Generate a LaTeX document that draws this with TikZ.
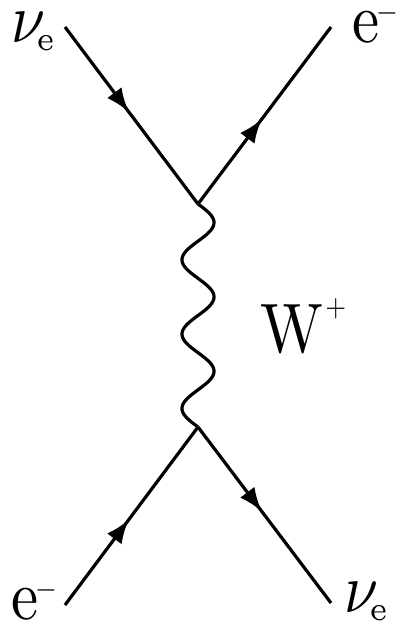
\documentclass[tikz,border=0pt]{standalone}
\usetikzlibrary{arrows.meta,decorations.markings}
\newcommand\supminus{\hspace{-0.5pt}\raisebox{2.9pt}{\scalebox{0.46}{$-$}}}
\newcommand\supplus{\hspace{0.4pt}\raisebox{5.1pt}{\scalebox{0.44}{$+$}}}
\newcommand\subelec{\hspace{-1.4pt}\raisebox{-1.15pt}{\fontsize{4.8}{5}\selectfont e}}
\tikzset{
  fermion/.style={line width=3.2pt, postaction={decorate}, decoration={markings,
     mark=at position 0.48 with {\arrow{Latex[length=24pt,width=18pt]}}}},
  boson/.style={line width=3.2pt},
  lbl/.style={inner sep=0pt, xscale=6.1, yscale=7}
}
\begin{document}
\begin{tikzpicture}[x=1pt,y=-1pt]
\useasboundingbox (0,0) rectangle (398,624);
\coordinate (v1) at (198,204);
\coordinate (v2) at (198,427);
\coordinate (a) at (65,27);
\coordinate (b) at (331,27);
\coordinate (c) at (65,605);
\coordinate (d) at (331,603);
\draw[fermion] (a) -- (v1);
\draw[fermion] (v1) -- (b);
\draw[fermion] (c) -- (v2);
\draw[fermion] (v2) -- (d);
\draw[boson, line join=round] plot[domain=0:223, samples=240, smooth] ({198+16*sin(\x/223*3*360)}, {204+\x});
\node[lbl, anchor=base west] (nu1) at (10,42) {$\nu$\subelec};
\node[lbl, anchor=base west] (e1) at (351,42) {e\supminus};
\node[lbl, anchor=base west] (e2) at (10,619) {e\supminus};
\node[lbl, anchor=base west] (nu2) at (343,612) {$\nu$\subelec};
\node[lbl, anchor=base west] (w) at (259,352) {W\supplus};
\end{tikzpicture}
\end{document}
